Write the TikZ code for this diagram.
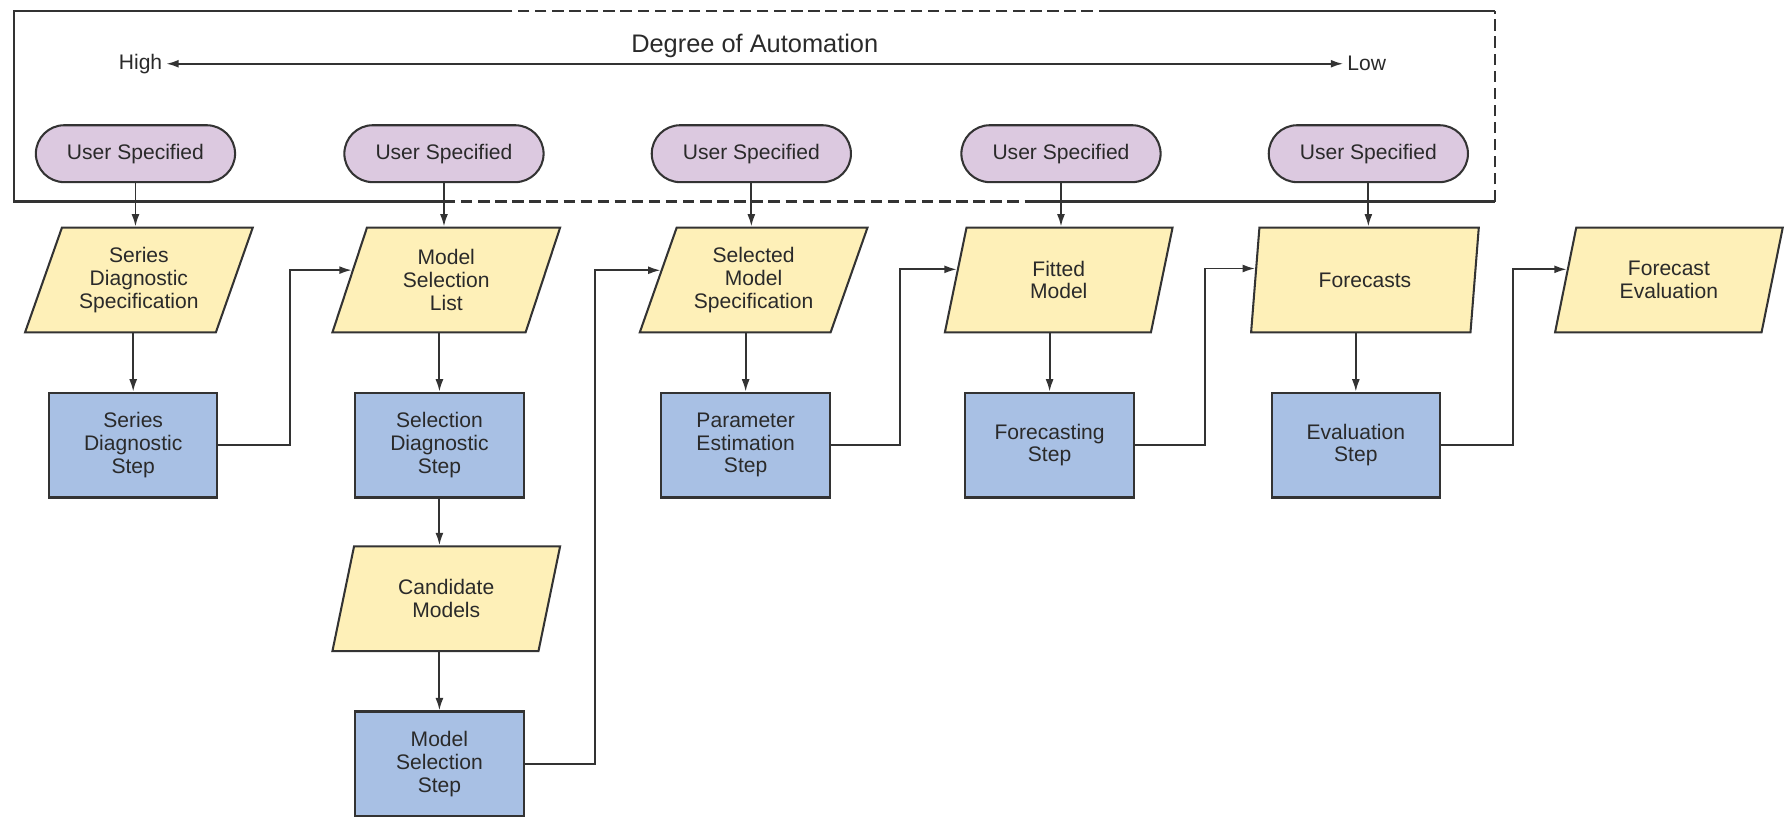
\documentclass[tikz,border=0pt]{standalone}
\usepackage{fontspec}
\setmainfont{Liberation Sans}
\usetikzlibrary{shapes.geometric,arrows.meta,calc}
\definecolor{pillfill}{HTML}{DCC9E0}
\definecolor{parafill}{HTML}{FEF0B8}
\definecolor{stepfill}{HTML}{A8C0E4}
\definecolor{edge}{HTML}{333333}
\definecolor{txt}{HTML}{2A2A2A}
\begin{document}
\begin{tikzpicture}[x=1pt,y=-1pt,
  font=\fontsize{18.5}{20}\selectfont, text=txt,
  pill/.style={draw=edge, line width=1.8pt, fill=pillfill, rectangle, rounded corners=25pt, minimum width=175pt, minimum height=50pt, inner sep=0pt},
  para/.style={draw=edge, line width=1.8pt, fill=parafill, trapezium, trapezium left angle=60.5, trapezium right angle=119.5, trapezium stretches body, minimum width=200pt, minimum height=92pt, inner sep=0pt, align=center},
  stepbox/.style={draw=edge, line width=1.8pt, fill=stepfill, rectangle, minimum width=148pt, minimum height=92pt, inner sep=0pt, align=center},
  arr/.style={draw=edge, line width=1.7pt, -{Latex[length=11pt,width=7pt]}},
  frame/.style={draw=edge, line width=1.8pt},
  framedash/.style={draw=edge, line width=1.8pt, dash pattern=on 10pt off 5pt},
]
\useasboundingbox (0,0) rectangle (1568,718);

% frame
\draw[frame] (40,10) -- (12,10) -- (12,177) -- (390,177);
\draw[framedash] (390,177) -- (910,177);
\draw[frame] (910,177) -- (1313,177);
\draw[framedash] (1313,177) -- (1313,10);
\draw[frame] (1313,10) -- (975,10);
\draw[framedash] (975,10) -- (445,10);
\draw[frame] (445,10) -- (40,10);

\node[font=\fontsize{22.3}{25}\selectfont] (title) at (663,40) {Degree of Automation};
\node[anchor=east] (high) at (146,56) {High};
\node[anchor=west] (low) at (1180,56) {Low};
\draw[draw=edge, line width=1.7pt, {Latex[length=11pt,width=7pt]}-{Latex[length=11pt,width=7pt]}] (high.east) -- (low.west);

% user specified
\node[pill] (u1) at (119,135) {User Specified};
\node[pill] (u2) at (390,135) {User Specified};
\node[pill] (u3) at (660,135) {User Specified};
\node[pill] (u4) at (932,135) {User Specified};
\node[pill] (u5) at (1202,135) {User Specified};

% parallelograms
\node[para] (p1) at (122,246) {Series\\Diagnostic\\Specification};
\node[para] (p2) at (392,246) {Model\\Selection\\List};
\node[para] (p3) at (662,246) {Selected\\Model\\Specification};
\node[para] (p4) at (930,246) {Fitted\\Model};
\node[para] (p5) at (1199,246) {Forecasts};
\node[para] (p6) at (1466,246) {Forecast\\Evaluation};
\node[para] (p7) at (392,526) {Candidate\\Models};

% steps
\node[stepbox] (s1) at (117,391) {Series\\Diagnostic\\Step};
\node[stepbox] (s2) at (386,391) {Selection\\Diagnostic\\Step};
\node[stepbox] (s3) at (655,391) {Parameter\\Estimation\\Step};
\node[stepbox] (s4) at (922,391) {Forecasting\\Step};
\node[stepbox] (s5) at (1191,391) {Evaluation\\Step};
\node[stepbox] (s6) at (386,671) {Model\\Selection\\Step};

% user -> para
\foreach \i in {1,...,5}{
  \draw[arr] (u\i.south) -- (u\i.south |- p\i.north);
}
% para -> step
\draw[arr] (s1.north |- p1.south) -- (s1.north);
\draw[arr] (s2.north |- p2.south) -- (s2.north);
\draw[arr] (s3.north |- p3.south) -- (s3.north);
\draw[arr] (s4.north |- p4.south) -- (s4.north);
\draw[arr] (s5.north |- p5.south) -- (s5.north);
\draw[arr] (s2.south) -- (s2.south |- p7.north);
\draw[arr] (s6.north |- p7.south) -- (s6.north);

% step -> next para
\draw[arr] (s1.east) -- ++(63,0) |- (p2.174);
\draw[arr] (s6.east) -- ++(62,0) |- (p3.174);
\draw[arr] (s3.east) -- ++(61,0) |- (p4.174);
\draw[arr] (s4.east) -- ++(62,0) |- (p5.174);
\draw[arr] (s5.east) -- ++(63,0) |- (p6.174);
\end{tikzpicture}
\end{document}
